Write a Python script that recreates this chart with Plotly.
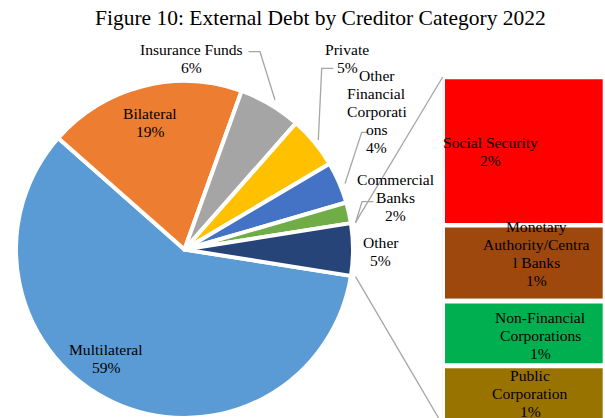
import numpy as np
import plotly.graph_objects as go

# ---- data -------------------------------------------------------------
pie_labels = ["Multilateral", "Bilateral", "Insurance Funds", "Private",
              "Other Financial Corporations", "Commercial Banks", "Other"]
pie_values = [59, 19, 6, 5, 4, 2, 5]
pie_colors = ["#5B9BD5", "#ED7D31", "#A5A5A5", "#FFC000",
              "#4472C4", "#70AD47", "#264478"]

bar_labels = ["Social Security", "Monetary Authority/Central Banks",
              "Non-Financial Corporations", "Public Corporation"]
bar_values = [2.13, 1.09, 0.93, 0.85]
bar_colors = ["#FF0000", "#9E480E", "#00B050", "#997300"]

# wrapped label text as it appears on the chart
pie_wrap = [["Multilateral"], ["Bilateral"], ["Insurance Funds"], ["Private"],
            ["Other", "Financial", "Corporati", "ons"], ["Commercial", "Banks"],
            ["Other"]]
bar_wrap = [["Social Security"], ["Monetary", "Authority/Centra", "l Banks"],
            ["Non-Financial", "Corporations"], ["Public", "Corporation"]]

# ---- layout constants (pixels) -------------------------------------------
W, H = 605, 418
FONT = "Liberation Serif, Times New Roman, serif"
LABEL_SIZE = 15.6
LINE_GAP = 18

PIE_CX, PIE_TOP = 184.5, 81.0          # pie centre x, top of pie domain
PIE_R = (H - PIE_TOP) / 2.0
PIE_CY = PIE_TOP + PIE_R
ROTATION = 99                           # clockwise from 12 o'clock
BORDER = 4

BAR_LEFT, BAR_TOP = 442.7, 77.0
PX_PER_UNIT = 69.6

TITLE_CX, TITLE_CY, TITLE_SIZE = 320.5, 18, 21.5

pie_label_pos = [(106, 349.3), (150.3, 113.3), (191, 50), (347, 49),
                 (377, 75), (395.7, 179.3), (380.5, 242.7)]
bar_label_pos = [(490, 142.7), (536, 226.7), (540, 317.3), (530, 375.7)]

leader_paths = [
    [(248.5, 51.7), (260, 51.7), (275, 100)],        # Insurance Funds
    [(333.3, 68.3), (321.7, 68.3), (318.3, 140)],    # Private
    [(368.3, 132.3), (361.7, 132.3), (345, 183.5)],  # Other Financial Corp.
    [(373.3, 201.7), (362, 201.7), (355.5, 223)],    # Commercial Banks
]


def px(x):
    return x / W


def py(y):
    return 1 - y / H


fig = go.Figure()

fig.add_trace(go.Pie(
    labels=pie_labels, values=pie_values, sort=False,
    direction="clockwise", rotation=ROTATION,
    marker=dict(colors=pie_colors, line=dict(color="white", width=BORDER)),
    textinfo="none", hoverinfo="label+percent", showlegend=False,
    domain=dict(x=[px(PIE_CX - PIE_R), px(PIE_CX + PIE_R)],
                y=[0, py(PIE_TOP)]),
))

# secondary stacked bar splitting the "Other" slice
bar_total = sum(bar_values)
bases = np.concatenate([[0], np.cumsum(bar_values)[:-1]])
for lab, v, b, c in zip(bar_labels, bar_values, bases, bar_colors):
    fig.add_trace(go.Bar(
        x=[0], y=[v], base=[b], width=2, name=lab,
        marker=dict(color=c, line=dict(color="white", width=4.6)),
        showlegend=False, hoverinfo="name",
    ))

y_bottom_val = (H - BAR_TOP) / PX_PER_UNIT

fig.update_layout(
    width=W, height=H,
    margin=dict(l=0, r=0, t=0, b=0),
    paper_bgcolor="white", plot_bgcolor="white",
    barmode="overlay",
    xaxis=dict(domain=[px(BAR_LEFT), 1], range=[-1, 1], visible=False,
               fixedrange=True),
    yaxis=dict(domain=[0, py(BAR_TOP)], range=[y_bottom_val, 0],
               visible=False, fixedrange=True),
)

annotations = []


def add_block(lines, cx, cy):
    for i, t in enumerate(lines):
        annotations.append(dict(
            text=t, x=px(cx), y=py(cy + i * LINE_GAP), xref="paper",
            yref="paper", xanchor="center", yanchor="middle",
            showarrow=False, font=dict(family=FONT, size=LABEL_SIZE,
                                       color="#000000")))


for wrap, v, (cx, cy) in zip(pie_wrap, pie_values, pie_label_pos):
    add_block(wrap + [f"{v:.0f}%"], cx, cy)
for wrap, v, (cx, cy) in zip(bar_wrap, bar_values, bar_label_pos):
    add_block(wrap + [f"{v:.0f}%"], cx, cy)

annotations.append(dict(
    text="Figure 10: External Debt by Creditor Category 2022",
    x=px(TITLE_CX), y=py(TITLE_CY), xref="paper", yref="paper",
    xanchor="center", yanchor="middle", showarrow=False,
    font=dict(family=FONT, size=TITLE_SIZE, color="#000000")))

fig.update_layout(annotations=annotations)

shapes = []
LINE_STYLE = dict(color="#A6A6A6", width=1.3)
for pts in leader_paths:
    d = "M " + " L ".join(f"{px(x):.5f},{py(y):.5f}" for x, y in pts)
    shapes.append(dict(type="path", path=d, xref="paper", yref="paper",
                       line=LINE_STYLE))

# series lines from the "Other" slice edges to the bar corners
vals = np.array(pie_values, dtype=float)
start_cw = ROTATION + 360 * vals[:-1].sum() / vals.sum()
end_cw = ROTATION + 360
r_conn = (PIE_R - BORDER / 2) * 1.04
for ang_cw, y_corner in [(start_cw, BAR_TOP),
                         (end_cw, BAR_TOP + bar_total * PX_PER_UNIT)]:
    a = np.deg2rad(ang_cw)
    x0 = PIE_CX + r_conn * np.sin(a)
    y0 = PIE_CY - r_conn * np.cos(a)
    shapes.append(dict(type="line", xref="paper", yref="paper",
                       x0=px(x0), y0=py(y0), x1=px(BAR_LEFT), y1=py(y_corner),
                       line=LINE_STYLE))

fig.update_layout(shapes=shapes)

fig.write_html("out.html")
